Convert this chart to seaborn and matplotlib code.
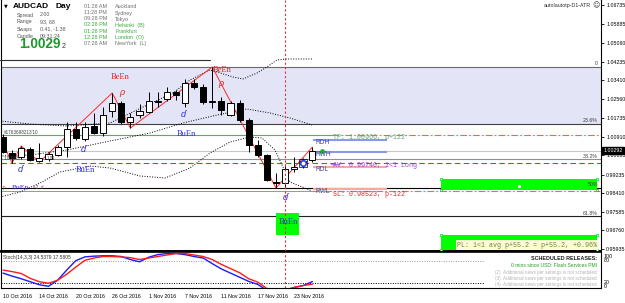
import numpy as np
import pandas as pd
import matplotlib
matplotlib.use("Agg")
import matplotlib.pyplot as plt
import matplotlib.transforms as mtransforms
from matplotlib.patches import Rectangle
import seaborn as sns

# ---------------- data ----------------
tick_bars = [0, 4, 8, 12, 16, 20, 24, 28, 32]
tick_labels = ["10 Oct 2016", "14 Oct 2016", "20 Oct 2016", "26 Oct 2016", "1 Nov 2016",
               "7 Nov 2016", "11 Nov 2016", "17 Nov 2016", "23 Nov 2016"]

opens = [1.00895, 1.00187, 1.00010, 1.00364, 0.99833, 0.99922, 1.00099, 1.00453, 1.01249, 1.00807,
         1.01382, 1.01072, 1.02045, 1.02399, 1.01559, 1.01868, 1.02001, 1.02444, 1.02576, 1.02886,
         1.02399, 1.03284, 1.03107, 1.02444, 1.02488, 1.01868, 1.02399, 1.01647, 1.00541, 1.00099,
         0.98904, 0.98860, 0.99479, 0.99745, 0.99878]
highs = [1.01028, 1.00320, 1.00497, 1.00453, 1.00630, 1.00232, 1.00541, 1.01559, 1.01559, 1.01559,
         1.01957, 1.02222, 1.02842, 1.02488, 1.01957, 1.02355, 1.02886, 1.02886, 1.03107, 1.02974,
         1.03461, 1.03461, 1.03240, 1.03992, 1.02665, 1.02488, 1.02532, 1.01736, 1.00762, 1.00143,
         0.99302, 0.99700, 1.00010, 0.99966, 1.00453]
lows = [1.00187, 0.99745, 0.99922, 0.99833, 0.99789, 0.99833, 1.00055, 1.00010, 1.00762, 1.00718,
        1.01028, 1.00939, 1.01780, 1.01470, 1.01293, 1.01736, 1.01957, 1.02222, 1.02488, 1.02532,
        1.02222, 1.03019, 1.02355, 1.02178, 1.01868, 1.01824, 1.01559, 1.00232, 1.00010, 0.98949,
        0.98639, 0.98683, 0.99347, 0.99524, 0.99789]
closes = [1.00232, 0.99966, 1.00408, 0.99878, 0.99966, 1.00143, 1.00453, 1.01249, 1.00851, 1.01338,
          1.01072, 1.01868, 1.02399, 1.01559, 1.01780, 1.02045, 1.02488, 1.02488, 1.02886, 1.02753,
          1.03284, 1.03107, 1.02444, 1.02488, 1.02090, 1.02399, 1.01647, 1.00541, 1.00099, 0.98993,
          0.98860, 0.99479, 0.99568, 0.99833, 1.00292]

zz_bars = [-1, 1, 2, 4, 12, 14, 23, 30, 34]
zz_prices = [1.01470, 0.99745, 1.00497, 0.99789, 1.02842, 1.01293, 1.03992, 0.98639, 1.00453]

up_bars = [-0.33, 2.97, 7.03, 11.76, 15.38, 18.68, 20.55, 22.75, 23.52, 25.27, 26.37, 27.91, 29.01, 30.11, 31.21, 34.07]
up_prices = [1.01603, 1.01470, 1.01382, 1.01515, 1.02222, 1.02842, 1.03417, 1.03859, 1.03771, 1.03550,
             1.03461, 1.03726, 1.03992, 1.04302, 1.04346, 1.04346]
mid_bars = [-0.33, 2.97, 7.03, 11.76, 16.15, 19.78, 23.52, 26.81, 29.34, 31.54, 33.96]
mid_prices = [1.00055, 1.00099, 1.00320, 1.00718, 1.01072, 1.01515, 1.01868, 1.02134, 1.01957, 1.01736, 1.01426]
low_bars = [-0.33, 1.87, 4.07, 6.26, 9.56, 11.76, 15.05, 17.80, 20.55, 22.75, 24.95, 27.14, 28.46, 29.89, 31.54, 33.96]
low_prices = [0.98241, 0.98462, 0.98860, 0.99347, 0.99612, 0.99524, 0.99170, 0.99081, 0.99524, 1.00187,
              1.00674, 1.00895, 1.00851, 1.00320, 0.98904, 0.98506]

stoch_main = [47, 39, 32, 24, 16, 12, 28, 55, 80, 90, 92, 93, 93, 91, 83, 77, 89, 96, 99, 99,
              96, 91, 87, 72, 58, 47, 36, 25, 17, 1, 0, 1, 9, 14, 24.5379]
stoch_signal = [55, 51, 46, 33, 24, 20, 28, 44, 63, 81, 87, 91, 91, 90, 88, 83, 87, 91, 95, 99,
                99, 95, 91, 83, 70, 59, 48, 32, 23, 6, 1, 2, 9, 14, 17.5805]

price_ticks = [1.06735, 1.05885, 1.05060, 1.04235, 1.03410, 1.02560, 1.01735, 1.00910, 1.00085,
               0.99235, 0.98410, 0.97585, 0.96760, 0.95935]

fib_0, fib_100 = 1.03992, 0.93297
fib_levels = [0.0, 23.6, 38.2, 50.0, 61.8]
fib_labels = ["0", "23.6%", "38.2%", "50%", "61.8%"]

bid, tp, av, sl = 1.00292, 1.00966, 0.99740, 0.98523
rd_names = ["RDH", "RWH", "RDL", "RWL"]
rd_prices = [1.00762, 1.00232, 0.99568, 0.98595]

zone_bars = [(48.13, 65.27), (48.13, 65.27), (30.0, 32.5)]
zone_prices = [(0.98550, 0.99037), (0.95896, 0.96560), (0.96560, 0.97533)]

signal_bar = 31
marker_bar, marker_price = 33, 0.99767

# ---------------- figure ----------------
sns.set_theme(style="white")
plt.rcParams['font.family'] = ['Liberation Sans', 'DejaVu Sans']
W, H = 625, 303
fig = plt.figure(figsize=(W / 100, H / 100), dpi=100)
fig.patch.set_facecolor('white')

X0_PX, BAR_PX = 3.0, 9.1
Y_TOP, PX_PRICE = 1.06956, 0.0004424


def bx(px):
    return (px - X0_PX) / BAR_PX


def py(ypx):
    return Y_TOP - ypx * PX_PRICE


def sv(ypx):
    return (290.8 - ypx) / 0.3767


def ftext(xpx, ypx, s, **kw):
    kw.setdefault('va', 'center')
    fig.text(xpx / W, 1 - ypx / H, s, **kw)


ax = fig.add_axes([1 / W, 1 - 251 / H, 600 / W, 251 / H])
ax.set_facecolor('white')

# lavender zone & fib lines
fib_prices = [fib_0 - (fib_0 - fib_100) * l / 100 for l in fib_levels]
ax.axhspan(fib_prices[1], fib_prices[0], color='#e4e4f7', zorder=0, lw=0)
fib_cols = ['#6a6a6a', '#404040', '#909090', '#000000', '#202020']
for p, lab, c in zip(fib_prices, fib_labels, fib_cols):
    ax.axhline(p, color=c, lw=0.8, zorder=1)
    ax.text(bx(598), p + 0.0003, lab, ha='right', va='bottom', fontsize=3.8, color='#404040', zorder=9)

# price lines
ax.axhline(bid, color='#c8c8c8', lw=0.8, zorder=1)
ax.plot([bx(1), bx(332)], [tp, tp], color='#5aa86a', lw=0.8, zorder=1)
ax.plot([bx(332), bx(601)], [tp, tp], color='#f26a3a', lw=0.8, dashes=(6, 2, 1.5, 2), zorder=1)
ax.axhline(av, color='#2e8b2e', lw=0.8, dashes=(5, 3), zorder=1)
ax.plot([bx(1), bx(312)], [sl, sl], color='#e06060', lw=0.6, zorder=1)
ax.plot([bx(312), bx(601)], [sl, sl], color='#f26a3a', lw=0.8, dashes=(6, 2, 1.5, 2), zorder=1)

# green zones
for (b0, b1), (p0, p1) in zip(zone_bars, zone_prices):
    ax.add_patch(Rectangle((b0, p0), b1 - b0, p1 - p0, facecolor='#00ff00', edgecolor='none', zorder=2))
for (b0, b1), (p0, p1) in zip(zone_bars[:2], zone_prices[:2]):
    ax.scatter([b0, b1, b0, b1], [p0, p0, p1, p1], marker='s', s=3, facecolor='white',
               edgecolor='#00cc00', linewidths=0.5, zorder=3)

# short level segments
for name, p in zip(rd_names, rd_prices):
    col = '#8a9af0' if name.endswith('H') else '#f4aaa2'
    ax.plot([bx(313), bx(387)], [p, p], color=col, lw=1.5, zorder=2, solid_capstyle='butt')
    ax.text(bx(315), p - 0.0012, name, fontsize=4.8, color='#4a4a8e', va='center', ha='left', zorder=9)
ax.plot([bx(331), bx(339)], [py(163.5), py(163.5)], color='#b080e0', lw=1.0, zorder=2)

# bands
for bb, pp in [(up_bars, up_prices), (mid_bars, mid_prices), (low_bars, low_prices)]:
    sns.lineplot(x=bb, y=pp, ax=ax, color='black', lw=0.7, linestyle=(0, (1, 1.6)),
                 estimator=None, sort=False, zorder=3)

# zigzag
sns.lineplot(x=zz_bars, y=zz_prices, ax=ax, color='#ff2a2a', lw=0.7, estimator=None, sort=False, zorder=4)

# candles
df = pd.DataFrame(dict(bar=np.arange(len(opens)), o=opens, h=highs, l=lows, c=closes))
upc = df.c >= df.o
ax.vlines(df.bar, df.l, df.h, color='black', lw=0.7, zorder=5)
bw = 0.66
ax.bar(df.bar[upc], (df.c - df.o)[upc] + 0.00005, bottom=df.o[upc], width=bw, color='white',
       edgecolor='black', lw=0.7, zorder=6)
ax.bar(df.bar[~upc], (df.o - df.c)[~upc] + 0.00005, bottom=df.c[~upc], width=bw, color='black',
       edgecolor='black', lw=0.7, zorder=6)

# signal vertical line
ax.axvline(signal_bar, color='#e03030', lw=0.8, ls=(0, (2, 2)), zorder=7)

# markers
ax.plot(marker_bar, marker_price, marker='s', ms=5.5, mfc='none', mec='black', mew=0.5, zorder=8)
ax.plot(marker_bar, marker_price, marker='o', ms=4, mfc='white', mec='#1f3fff', mew=1.2, zorder=8)
ax.plot(bx(322), py(151), marker='o', ms=2.5, color='#10c030', zorder=8)
ax.plot(bx(519), py(185.5), marker='s', ms=1.2, color='white', zorder=8)

# labels BeEn / BuEn / fractals
serif = ['Liberation Serif', 'DejaVu Serif']
for (xp, yp) in [(111, 77), (213, 70)]:
    ax.text(bx(xp), py(yp), "BeEn", fontsize=6, color='#e82020', family=serif, va='center', zorder=9)
for (xp, yp, fs) in [(177, 134, 6), (76, 170, 6), (12, 187, 5.4), (279, 222, 6)]:
    ax.text(bx(xp), py(yp), "BuEn", fontsize=fs, color='#2a2ae0', family=serif, va='center', zorder=9)
for (xp, yp) in [(119, 92), (218, 84)]:
    ax.text(bx(xp), py(yp), "ρ", fontsize=6.5, color='#e82020', style='italic', va='center', zorder=9)
for (xp, yp) in [(18, 169), (81, 149), (181, 114), (283, 197)]:
    ax.text(bx(xp), py(yp), "ɗ", fontsize=6.5, color='#2a2ae0', style='italic', va='center', zorder=9)

ax.text(bx(3), py(187), "p", fontsize=3.3, color='#505050', va='center', zorder=9)
ax.text(bx(33), py(187), "=2 .d", fontsize=3.3, color='#505050', va='center', zorder=9)
ax.text(bx(4), py(132), "#1763698213'10", fontsize=3.3, color='#404040', va='center', zorder=9)
ax.text(bx(4), py(158), "1.00085", fontsize=3.3, color='#404040', va='center', zorder=9)
ax.text(bx(47), py(158), "1.01", fontsize=3.3, color='#404040', va='center', zorder=9)

mono = ['Liberation Mono', 'DejaVu Sans Mono']
ax.text(bx(333), tp - 0.0010, "TP: 1.00966, p+122", family=mono, fontsize=4.8, color='#6aa47e', va='center', zorder=9)
ax.text(bx(333), av - 0.0012, "AV: 0.99740, 1<1 Long", family=mono, fontsize=4.8, color='#a040d0', va='center', zorder=9)
ax.text(bx(333), sl - 0.0019, "SL: 0.98523, p-122", family=mono, fontsize=4.8, color='#e02828', va='center', zorder=9)
ax.text(bx(457), py(245), "PL: 1<1 avg p+55.2 = p+55.2, +0.96%", family=mono, fontsize=4.8,
        color='#6b8a2a', va='center', zorder=9,
        bbox=dict(facecolor='#fbfbd6', edgecolor='none', pad=0.8))

# axes formatting
ax.set_xlim(bx(1), bx(601))
ax.set_ylim(py(251), py(0))
ax.set_xlabel('')
ax.set_ylabel('')
ax.set_xticks([])
ax.yaxis.tick_right()
ax.set_yticks(price_ticks)
ax.set_yticklabels([f"{p:.5f}" for p in price_ticks], fontsize=3.8)
ax.tick_params(axis='y', length=2.2, width=0.6, pad=1.5, colors='black', right=True, left=False)
for s in ['left', 'right', 'bottom']:
    ax.spines[s].set_color('black')
    ax.spines[s].set_linewidth(0.8)
ax.spines['bottom'].set_linewidth(1.4)
ax.spines['top'].set_visible(False)
blend = mtransforms.blended_transform_factory(ax.transAxes, ax.transData)
ax.text(1.004, bid, "1.00292", transform=blend, ha='left', va='center', fontsize=3.8, color='white',
        bbox=dict(facecolor='black', edgecolor='black', pad=0.9), zorder=12, clip_on=False)

# ---------------- stochastic panel ----------------
ax2 = fig.add_axes([1 / W, 1 - 288 / H, 600 / W, 36 / H])
ax2.set_facecolor('white')
sdf = pd.DataFrame(dict(bar=np.arange(len(stoch_main)), main=stoch_main, signal=stoch_signal))
ax2.plot([bx(1), bx(484)], [80, 80], color='#9a9a9a', lw=0.7, ls=(0, (1, 1.5)), zorder=1)
ax2.plot([bx(1), bx(484)], [20, 20], color='black', lw=0.7, ls=(0, (1, 1.5)), zorder=1)
sns.lineplot(data=sdf, x='bar', y='main', ax=ax2, color='#1a1aff', lw=1.0, estimator=None, zorder=3)
sns.lineplot(data=sdf, x='bar', y='signal', ax=ax2, color='#ff1a1a', lw=1.0, estimator=None, zorder=3)
ax2.axvline(signal_bar, color='#e03030', lw=0.8, ls=(0, (2, 2)), zorder=4)
ax2.set_xlim(bx(1), bx(601))
ax2.set_ylim(sv(288), sv(252))
ax2.set_xlabel('')
ax2.set_ylabel('')
ax2.set_yticks([])
ax2.set_xticks(tick_bars)
ax2.set_xticklabels(tick_labels, fontsize=3.8, ha='left')
ax2.tick_params(axis='x', length=0, pad=4.5, colors='black')
for s in ['left', 'right', 'bottom', 'top']:
    ax2.spines[s].set_color('black')
    ax2.spines[s].set_linewidth(0.8)
ax2.spines['top'].set_linewidth(1.2)
ax2.text(bx(3), sv(258), "Stoch(14,3,3) 24.5379 17.5805", fontsize=3.5, color='#303030', va='center', zorder=9)
for lab, ypx in [("100", 256), ("80", 260), ("20", 282), ("0", 286)]:
    ftext(604, ypx, lab, fontsize=3.8, color='black', ha='left')

# news
ftext(597, 259, "SCHEDULED RELEASES:", fontsize=3.9, weight='bold', color='#202020', ha='right')
ftext(597, 265.5, "0 mins since USD: Flash Services PMI", fontsize=3.6, color='#20a020', ha='right')
for k, ypx in [(2, 272.5), (3, 278.5), (4, 284.5)]:
    ftext(597, ypx, f"({k})  Additional news per settings is not scheduled", fontsize=3.3,
          color='#b4b4b4', ha='right')

# ---------------- info panel (top-left) ----------------
fig.add_artist(plt.Line2D([0 / W, 210 / W], [1 - 59.5 / H, 1 - 59.5 / H], color='#303030', lw=0.8))
ftext(4, 6, "▼", fontsize=3.5, color='black', ha='left', family=['DejaVu Sans'])
ftext(13, 7, "AUDCAD", fontsize=6, weight='bold', color='black', ha='left')
ftext(55, 7, "Day", fontsize=6, weight='bold', color='black', ha='left')
for ypx, lab, val in [(15, "Spread", "2.00"), (22, "Range", "93, 68"), (29, "Swaps", "0.41, -1.38"),
                      (36, "Candle", "09:31:24")]:
    ftext(17, ypx, lab, fontsize=3.8, color='#555555', ha='left')
    ftext(40, ypx, val, fontsize=3.8, color='#555555', ha='left')
ftext(19, 44, "1.0029", fontsize=9.8, weight='bold', color='#1a9a2a', ha='left')
ftext(62, 46.5, "2", fontsize=5, color='#333333', ha='left')
for ypx, t, city, col in [(6, "01:28 AM", "Auckland", '#707070'), (13, "11:28 PM", "Sydney", '#707070'),
                          (19, "09:28 PM", "Tokyo", '#707070'), (25, "02:28 PM", "Helsinki  (B)", '#3aaa3a'),
                          (31.5, "01:28 PM", "Frankfurt", '#3aaa3a'), (37.5, "12:28 PM", "London  (O)", '#3aaa3a'),
                          (43.5, "07:28 AM", "NewYork  (L)", '#707070')]:
    ftext(84, ypx, t, fontsize=3.9, color=col, ha='left')
    ftext(115, ypx, city, fontsize=3.9, color=col, ha='left')

ftext(591, 5.5, "autolautotp-D1-ATR", fontsize=3.8, color='#303030', ha='right')
ftext(592, 5.5, "☺", fontsize=5, color='#303030', ha='left', family=['DejaVu Sans'])

fig.savefig("out.png", dpi=100, facecolor='white')
